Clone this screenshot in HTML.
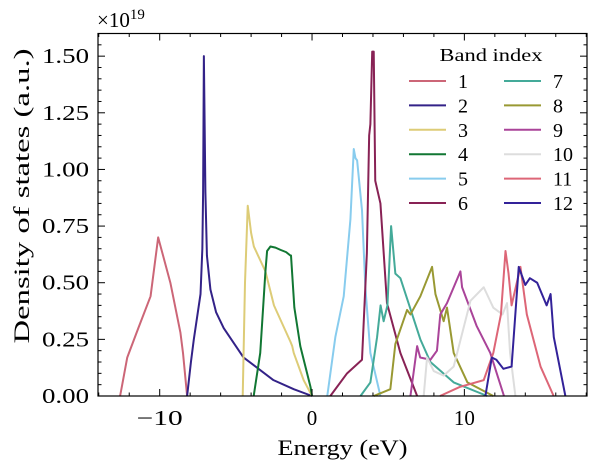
<!DOCTYPE html>
<html><head><meta charset="utf-8"><style>
html,body{margin:0;padding:0;background:#fff;}
svg{display:block;font-family:"Liberation Serif",serif;}
</style></head><body>
<svg id="chart" width="600" height="472" viewBox="0 0 600 472" xmlns="http://www.w3.org/2000/svg">
<g id="plot"></g>
</svg>
<script>
const bandNames = ["1","2","3","4","5","6","7","8","9","10","11","12"];
const bandColors = ["#CC6677","#332288","#DDCC77","#117733","#88CCEE","#882255","#44AA99","#999933","#AA4499","#DDDDDD","#DD6677","#332299"];
const band1E = [-12.6,-12.46,-12.13,-11.4,-10.6,-10.1,-9.9,-9.3,-8.64,-8.47,-8.2];
const band1V = [0,0.05,0.17,0.30,0.44,0.70,0.65,0.50,0.28,0.19,0];
const band2E = [-8.2,-7.95,-7.76,-7.32,-7.2,-7.15,-7.1,-7.0,-6.9,-6.67,-6.3,-5.8,-4.5,-2.53,-1.2,0];
const band2V = [0,0.15,0.25,0.45,0.65,0.9,1.5,0.9,0.62,0.47,0.37,0.30,0.17,0.07,0.03,0];
const band3E = [-4.55,-4.4,-4.22,-4.0,-3.82,-3.06,-2.5,-1.42,-1.3,-1.2,-0.55,0];
const band3V = [0,0.5,0.84,0.72,0.66,0.55,0.40,0.24,0.22,0.19,0.07,0];
const band4E = [-3.83,-3.4,-3.06,-2.95,-2.73,-2.4,-2.07,-1.7,-1.42,-1.38,-1.16,-0.77,-0.1,0];
const band4V = [0,0.19,0.55,0.64,0.66,0.655,0.645,0.635,0.62,0.62,0.39,0.22,0.04,0];
const band5E = [1.0,1.53,2.08,2.52,2.74,2.85,2.96,3.28,3.5,3.83,4.49];
const band5V = [0,0.26,0.44,0.78,1.09,1.05,1.04,0.82,0.48,0.19,0];
const band6E = [1.2,2.3,3.28,3.6,3.75,3.83,3.95,4.05,4.15,4.49,4.92,5.8,6.9];
const band6V = [0,0.10,0.16,0.63,1.15,1.2,1.52,1.52,0.95,0.85,0.41,0.19,0];
const band7E = [3.18,3.83,4.27,4.5,4.7,4.95,5.19,5.47,5.8,7.11,7.77,9.3,11.5];
const band7V = [0,0.06,0.26,0.40,0.33,0.40,0.75,0.54,0.52,0.25,0.15,0.06,0];
const band8E = [4.05,5.14,5.47,6.24,6.46,7.11,7.88,8.1,8.64,8.86,9.3,10.2,11.9];
const band8V = [0,0.03,0.23,0.38,0.36,0.44,0.57,0.45,0.33,0.39,0.19,0.06,0];
const band9E = [6.46,6.9,7.1,7.77,8.2,8.42,8.86,9.74,9.85,10.8,11.7,12.6];
const band9V = [0,0.22,0.17,0.16,0.20,0.36,0.41,0.55,0.48,0.31,0.19,0];
const band10E = [7.33,7.55,7.99,8.64,9.3,10.4,11.27,11.9,12.5,12.8,13.0,13.35];
const band10V = [0,0.17,0.11,0.09,0.13,0.42,0.48,0.39,0.36,0.41,0.19,0];
const band11E = [8.4,9.7,11.27,11.9,12.4,12.7,12.9,13.1,13.68,14.1,15.0,15.86];
const band11V = [0,0.04,0.07,0.19,0.36,0.64,0.54,0.40,0.57,0.36,0.13,0];
const band12E = [11.38,11.8,12.1,12.56,13.1,13.57,14.0,14.3,14.78,15.4,15.66,15.87,16.63];
const band12V = [0,0.17,0.16,0.12,0.13,0.57,0.49,0.52,0.50,0.40,0.45,0.26,0];
const xTickVals = [-10,0,10];
const xTickLabels = ["\u221210","0","10"];
const yTickVals = [0,0.25,0.5,0.75,1.0,1.25,1.5];
const yTickLabels = ["0.00","0.25","0.50","0.75","1.00","1.25","1.50"];

const bandE=[band1E,band2E,band3E,band4E,band5E,band6E,band7E,band8E,band9E,band10E,band11E,band12E];
const bandV=[band1V,band2V,band3V,band4V,band5V,band6V,band7V,band8V,band9V,band10V,band11V,band12V];
const L=98,R=587,T=33.5,B=396, xmin=-14.05,xmax=18.05,ymin=0,ymax=1.6;
const sx=e=>L+(e-xmin)/(xmax-xmin)*(R-L);
const sy=v=>B-(v-ymin)/(ymax-ymin)*(B-T);
const NS="http://www.w3.org/2000/svg";
const g=document.getElementById('plot');
function mk(tag,attrs,parent){const el=document.createElementNS(NS,tag);for(const k in attrs)el.setAttribute(k,attrs[k]);(parent||g).appendChild(el);return el;}

const curves=mk('g',{});


for(let i=0;i<12;i++){
  const d=bandE[i].map((e,j)=>(j?'L':'M')+sx(e).toFixed(2)+','+sy(bandV[i][j]).toFixed(2)).join('');
  const p=mk('path',{d:d,fill:'none',stroke:bandColors[i],'stroke-width':2,'stroke-linejoin':'round'},curves);
  
  
}
const frame=mk('rect',{x:L,y:T,width:R-L,height:B-T,fill:'none',stroke:'#000','stroke-width':1.2});



const ticks=mk('g',{stroke:'#000','stroke-width':1});
for(let e=-14;e<=18;e+=2){
  const major=(e%10===0);const len=major?7:3.5;const x=sx(e);
  mk('line',{x1:x,y1:B,x2:x,y2:B-len},ticks);
  mk('line',{x1:x,y1:T,x2:x,y2:T+len},ticks);
}
for(let k=0;k<=32;k++){
  const v=k*0.05;const major=(k%5===0);const len=major?7:3.5;const y=sy(v);
  mk('line',{x1:L,y1:y,x2:L+len,y2:y},ticks);
  mk('line',{x1:R,y1:y,x2:R-len,y2:y},ticks);
}
xTickVals.forEach((v,i)=>{
  const t=mk('text',{x:sx(v),y:B+29,'text-anchor':'middle','font-size':21});
  t.textContent=xTickLabels[i];
  if(i===0){t.setAttribute('textLength',46);t.setAttribute('lengthAdjust','spacingAndGlyphs');}
  
  
});
yTickVals.forEach((v,i)=>{
  const t=mk('text',{x:L-9,y:sy(v)+7,'text-anchor':'end','font-size':21,textLength:47,lengthAdjust:'spacingAndGlyphs'});
  t.textContent=yTickLabels[i];
  
  
});
const xl=mk('text',{x:(L+R)/2,y:455,'text-anchor':'middle','font-size':22,textLength:130,lengthAdjust:'spacingAndGlyphs'});
xl.textContent='Energy (eV)';


const yl=mk('text',{x:0,y:0,'text-anchor':'middle','font-size':22,textLength:295,lengthAdjust:'spacingAndGlyphs',transform:'translate(29,196) rotate(-90)'});
yl.textContent='Density of states (a.u.)';


const off=mk('text',{x:97,y:27,'font-size':21});
off.innerHTML='\u00d710<tspan dy="-8" font-size="15">19</tspan>';



const leg=mk('g',{});


const lt=mk('text',{x:491,y:61,'text-anchor':'middle','font-size':18,textLength:103,lengthAdjust:'spacingAndGlyphs'},leg);
lt.textContent='Band index';


for(let i=0;i<12;i++){
  const col=Math.floor(i/6),row=i%6;
  const y=81+row*24.4;const x0=col?504:409;
  const ln=mk('line',{x1:x0,y1:y,x2:x0+37,y2:y,stroke:bandColors[i],'stroke-width':2},leg);
  
  
  const tx=mk('text',{x:x0+49,y:y+7,'font-size':20},leg);
  tx.textContent=bandNames[i];
  
  
}
</script>
</body></html>
